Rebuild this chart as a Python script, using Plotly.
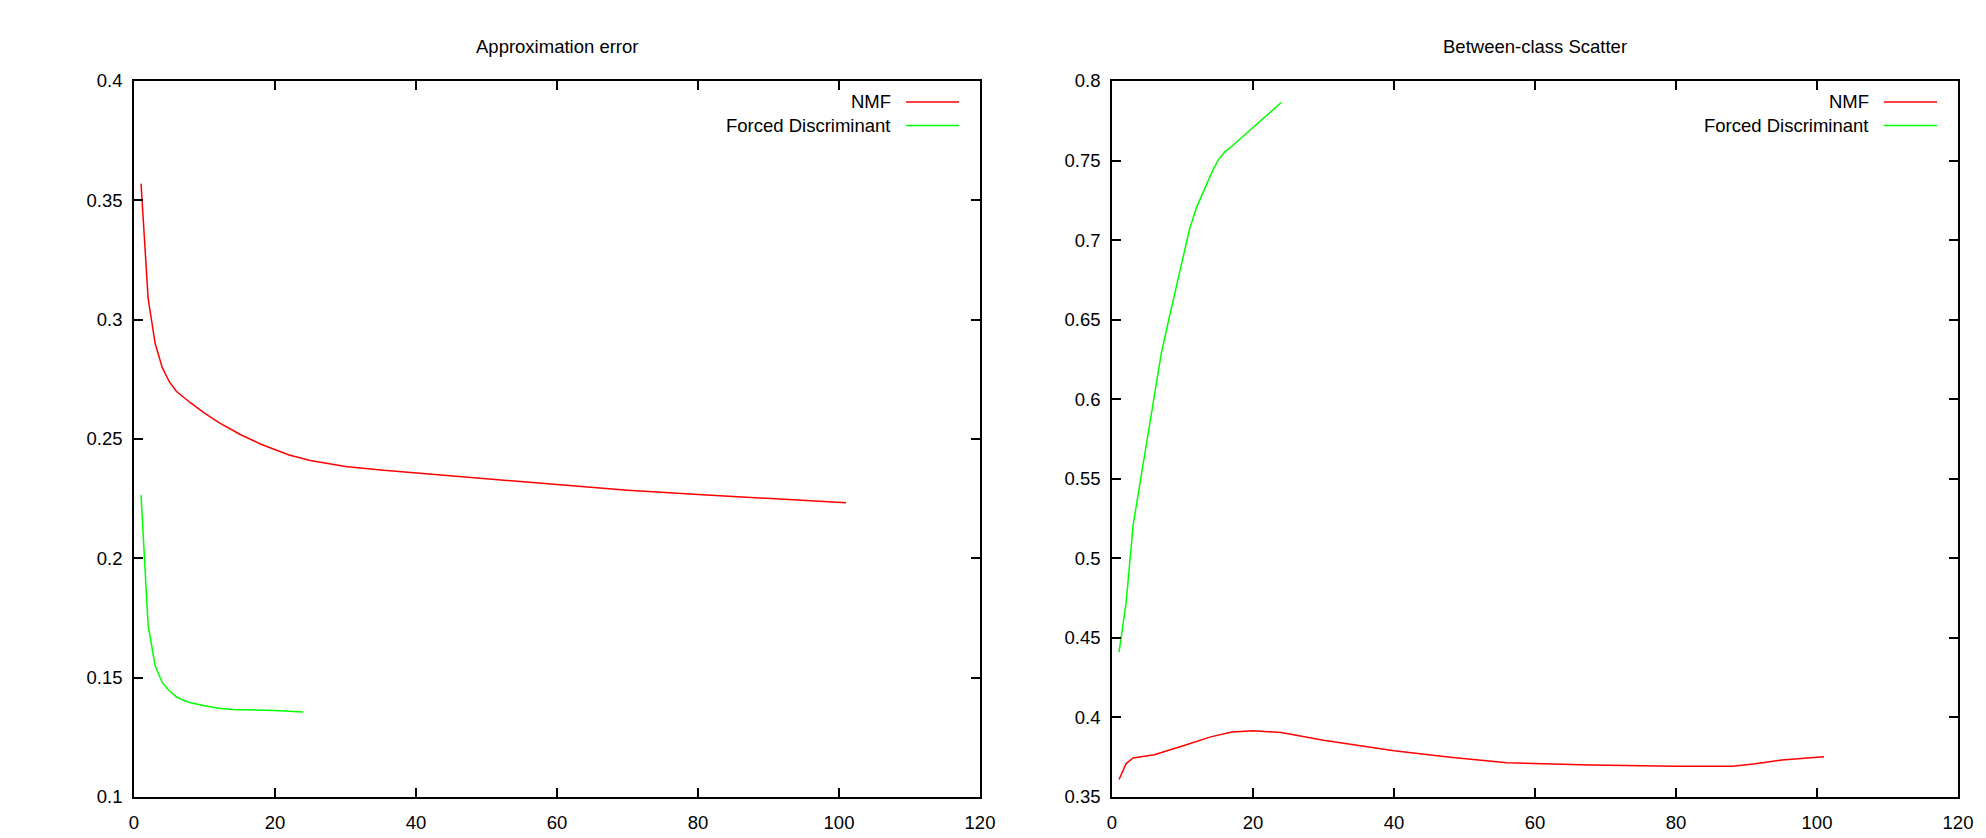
import plotly.graph_objects as go

W, H = 1986, 838

# ---- data ----
err_nmf_x = [1, 2, 3, 4, 5, 6, 8, 10, 12, 15, 18, 20, 22, 25, 30, 35, 40, 50, 60, 70, 80, 90, 101]
err_nmf_y = [0.357, 0.309, 0.290, 0.280, 0.274, 0.270, 0.2652, 0.2608, 0.2570, 0.2520,
             0.2478, 0.2455, 0.2433, 0.2410, 0.2385, 0.2370, 0.2358, 0.2332, 0.2307,
             0.2285, 0.2267, 0.2250, 0.2233]

err_fd_x = [1, 2, 3, 4, 5, 6, 7, 8, 10, 12, 14, 17, 20, 24]
err_fd_y = [0.2265, 0.172, 0.155, 0.148, 0.1445, 0.142, 0.1405, 0.1395, 0.1382,
            0.1372, 0.1367, 0.1366, 0.1362, 0.1356]

sc_nmf_x = [1, 2, 3, 6, 10, 14, 17, 20, 24, 30, 40, 48, 56, 68, 80, 88, 91, 95, 101]
sc_nmf_y = [0.361, 0.371, 0.3745, 0.3765, 0.382, 0.3878, 0.3908, 0.3916, 0.3905,
            0.3857, 0.379, 0.375, 0.3715, 0.3701, 0.3694, 0.3694, 0.3707, 0.3732, 0.3753]

sc_fd_x = list(range(1, 25))
sc_fd_y = [0.441, 0.472, 0.521, 0.548, 0.575, 0.600, 0.629, 0.649, 0.668, 0.688,
           0.707, 0.7206, 0.731, 0.741, 0.750, 0.7555, 0.759, 0.763, 0.7665, 0.771,
           0.775, 0.779, 0.783, 0.7865]

titles = ["Approximation error", "Between-class Scatter"]
series_names = ["NMF", "Forced Discriminant"]
x_range = [0, 120]
y_ranges = [[0.1, 0.4], [0.35, 0.8]]
y_dticks = [0.05, 0.05]

RED = "#ff0000"
GREEN = "#00ff00"
FONT = "Liberation Sans Narrow, Arial Narrow, Liberation Sans, Arial, sans-serif"
FS = 18.5

# plot frames in pixels
frames = [(134, 980), (1112, 1958)]
top_px, bot_px = 81, 797

def px(x):
    return x / W

def py(y):
    return 1 - y / H

fig = go.Figure()
fig.add_trace(go.Scatter(x=err_nmf_x, y=err_nmf_y, mode="lines", line=dict(color=RED, width=1.5),
                         xaxis="x", yaxis="y", showlegend=False))
fig.add_trace(go.Scatter(x=err_fd_x, y=err_fd_y, mode="lines", line=dict(color=GREEN, width=1.5),
                         xaxis="x", yaxis="y", showlegend=False))
fig.add_trace(go.Scatter(x=sc_nmf_x, y=sc_nmf_y, mode="lines", line=dict(color=RED, width=1.5),
                         xaxis="x2", yaxis="y2", showlegend=False))
fig.add_trace(go.Scatter(x=sc_fd_x, y=sc_fd_y, mode="lines", line=dict(color=GREEN, width=1.5),
                         xaxis="x2", yaxis="y2", showlegend=False))

axis_common = dict(showline=True, linecolor="black", linewidth=1.5, mirror="ticks",
                   ticks="inside", ticklen=9, tickwidth=1.5, tickcolor="black",
                   showgrid=False, zeroline=False,
                   tickfont=dict(family=FONT, size=FS, color="black"))

layout = dict(width=W, height=H, margin=dict(l=0, r=0, t=0, b=0, autoexpand=False),
              paper_bgcolor="white", plot_bgcolor="white",
              font=dict(family=FONT, size=FS, color="black"))

annotations = []
shapes = []
for i, (l, r) in enumerate(frames):
    sx = "" if i == 0 else str(i + 1)
    layout["xaxis" + sx] = dict(domain=[px(l), px(r)], range=x_range, dtick=20,
                                anchor="y" + sx, ticklabelstandoff=8, **axis_common)
    layout["yaxis" + sx] = dict(domain=[py(bot_px), py(top_px)], range=y_ranges[i],
                                dtick=y_dticks[i], anchor="x" + sx, ticklabelstandoff=6,
                                **axis_common)
    annotations.append(dict(text=titles[i], x=px((l + r) / 2), y=py(46), xref="paper", yref="paper",
                             xanchor="center", yanchor="middle", showarrow=False,
                             font=dict(family=FONT, size=FS, color="black")))
    for j, (name, col) in enumerate(zip(series_names, [RED, GREEN])):
        ly = 102 + j * 23.5
        annotations.append(dict(text=name, x=px(r - 87), y=py(ly), xref="paper", yref="paper",
                                xanchor="right", yanchor="middle", showarrow=False,
                                font=dict(family=FONT, size=FS, color="black")))
        shapes.append(dict(type="line", xref="paper", yref="paper",
                           x0=px(r - 74), x1=px(r - 21), y0=py(ly), y1=py(ly),
                           line=dict(color=col, width=1.5)))

layout["annotations"] = annotations
layout["shapes"] = shapes
fig.update_layout(**layout)
fig.write_html("out.html", config={"displayModeBar": False},
               post_script="document.body.style.margin='0';document.body.style.overflow='hidden';")
